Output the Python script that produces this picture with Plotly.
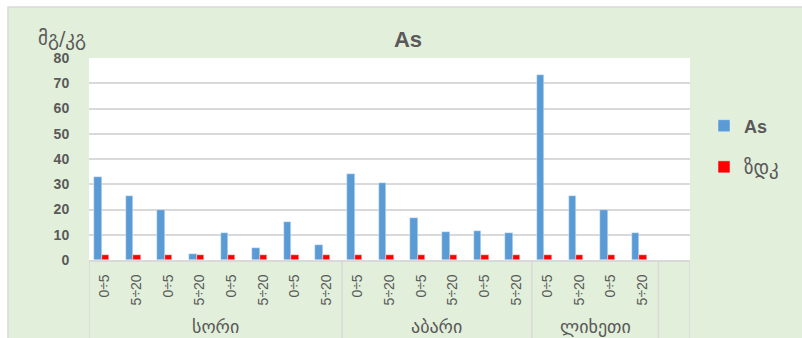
import plotly.graph_objects as go

# Sampling sites (outer axis level) and depth intervals in cm (inner level)
sites = ["სორი"] * 8 + ["აბარი"] * 6 + ["ლიხეთი"] * 4 + [""]
depths = ["0÷5", "5÷20"] * 9 + [""]

# Arsenic content, mg/kg
as_values = [32.9, 25.3, 20.0, 2.3, 10.5, 4.6, 15.0, 5.9,
             34.0, 30.3, 16.5, 10.9, 11.3, 10.5,
             73.1, 25.3, 19.8, 10.5,
             None]
# Maximum permissible concentration (ზდკ), mg/kg
zdk_values = [2] * 18 + [None]

y_ticks = [0, 10, 20, 30, 40, 50, 60, 70, 80]

W, H = 802, 338
L, R, T, B = 89, 690, 58, 260           # plot area in pixels
GREEN = "#e2efda"
GREY_TXT = "#595959"
GRID = "#d9d9d9"
FONT = "Liberation Sans, DejaVu Sans, sans-serif"
GEO_FONT = "DejaVu Sans, sans-serif"


def px_x(p):
    return (p - L) / (R - L)


def px_y(p):
    return (B - p) / (B - T)


positions = list(range(len(depths)))

fig = go.Figure()
fig.add_trace(go.Bar(
    x=positions, y=as_values, name="As",
    marker=dict(color="#5b9bd5"),
    width=0.24, offset=-0.34, legend="legend",
))
fig.add_trace(go.Bar(
    x=positions, y=zdk_values, name="ზდკ",
    marker=dict(color="#ff0000"),
    width=0.23, offset=-0.10, legend="legend2",
))

# Group boundaries and centres along the category axis
bounds = [-0.5]
for i in range(1, len(sites)):
    if sites[i] != sites[i - 1]:
        bounds.append(i - 0.5)
bounds.append(len(sites) - 0.5)

shapes = [
    # chart area panel with a thin border
    dict(type="rect", xref="paper", yref="paper", layer="below",
         x0=px_x(8), x1=px_x(W + 5), y0=px_y(H + 5), y1=px_y(7),
         fillcolor=GREEN, line=dict(color=GRID, width=1.5)),
    # white plot area
    dict(type="rect", xref="paper", yref="paper", layer="below",
         x0=0, x1=1, y0=0, y1=1, fillcolor="white", line=dict(width=0)),
]
for b in bounds:
    shapes.append(dict(type="line", xref="x", yref="paper", layer="above",
                       x0=b, x1=b, y0=0, y1=px_y(H + 2),
                       line=dict(color=GRID, width=1.5)))

annotations = [
    dict(text="მგ/კგ", xref="paper", yref="paper",
         x=px_x(36), y=px_y(39), xanchor="left", yanchor="middle",
         showarrow=False, font=dict(family=GEO_FONT, size=19, color=GREY_TXT)),
]
for a, b in zip(bounds[:-1], bounds[1:]):
    name = sites[int(a + 0.5)]
    if name:
        annotations.append(dict(
            text=name, xref="x", yref="paper", x=(a + b) / 2, y=px_y(326),
            xanchor="center", yanchor="middle", showarrow=False,
            font=dict(family=GEO_FONT, size=18, color=GREY_TXT)))

fig.update_layout(
    width=W, height=H,
    margin=dict(l=L, r=W - R, t=T, b=H - B, pad=0),
    paper_bgcolor="white",
    plot_bgcolor="rgba(0,0,0,0)",
    font=dict(family=FONT, color=GREY_TXT),
    showlegend=True,
    title=dict(text="As", x=408 / W, xref="container", xanchor="center",
               y=1 - 39 / H, yref="container", yanchor="middle",
               font=dict(size=22, weight="bold", color=GREY_TXT)),
    bargap=0,
    legend=dict(x=px_x(704), y=px_y(126), xanchor="left", yanchor="middle",
                bgcolor="rgba(0,0,0,0)",
                font=dict(size=18, weight="bold", color=GREY_TXT)),
    legend2=dict(x=px_x(704), y=px_y(167), xanchor="left", yanchor="middle",
                 bgcolor="rgba(0,0,0,0)",
                 font=dict(family=GEO_FONT, size=19, color=GREY_TXT)),
    xaxis=dict(
        range=[-0.5, len(depths) - 0.5],
        tickvals=positions, ticktext=depths,
        showgrid=False, zeroline=False,
        showline=True, linecolor=GRID, linewidth=1.5,
        tickangle=-90,
        ticks="outside", ticklen=7, tickcolor="rgba(0,0,0,0)",
        tickfont=dict(size=14, color=GREY_TXT),
    ),
    yaxis=dict(
        range=[0, 80], tickvals=y_ticks,
        showgrid=True, gridcolor=GRID, gridwidth=1.5,
        zeroline=False,
        ticks="outside", ticklen=16, tickcolor="rgba(0,0,0,0)",
        tickfont=dict(size=14, weight="bold", color=GREY_TXT),
    ),
    shapes=shapes,
    annotations=annotations,
)

fig.write_html("out.html")
